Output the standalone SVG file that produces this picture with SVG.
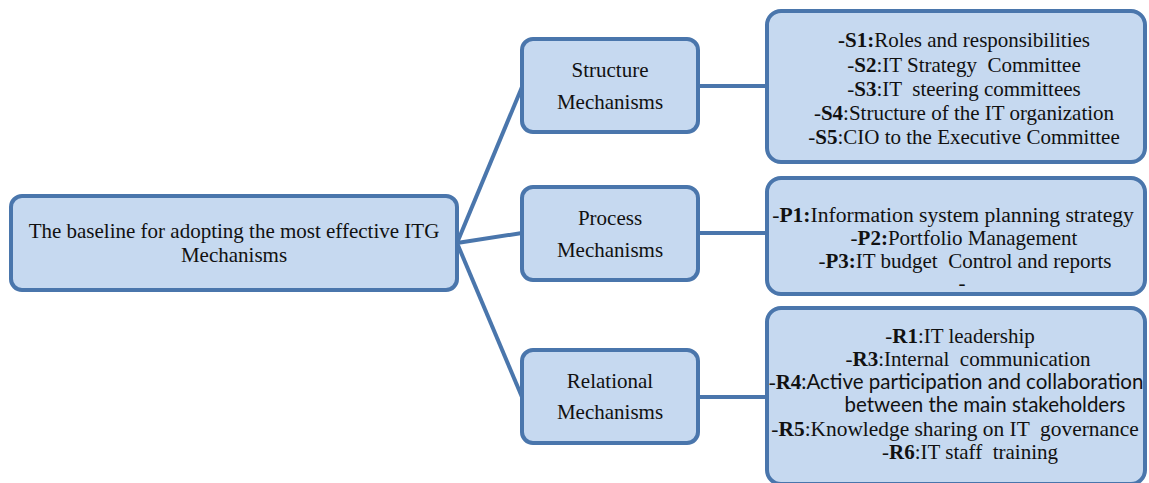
<svg xmlns="http://www.w3.org/2000/svg" width="1149" height="483" viewBox="0 0 1149 483">
<style>
.box{fill:#c6d9f0;stroke:#4a76ac;stroke-width:4}
.conn{stroke:#4a76ac;stroke-width:4;fill:none}
text{font-family:"Liberation Serif","Times New Roman",serif;font-size:21px;fill:#111;text-anchor:middle;white-space:pre}
.b{font-weight:bold}
.sans{font-family:Lato,"Liberation Sans",sans-serif;font-size:20px}
</style>
<rect width="1149" height="483" fill="#ffffff"/>
<g id="connectors">
<line class="conn" x1="457" y1="243" x2="522" y2="87"/>
<line class="conn" x1="457" y1="243" x2="522" y2="233"/>
<line class="conn" x1="457" y1="243" x2="522" y2="397"/>
<line class="conn" x1="698" y1="86" x2="767" y2="86"/>
<line class="conn" x1="698" y1="233" x2="767" y2="233"/>
<line class="conn" x1="698" y1="397" x2="767" y2="397"/>
</g>
<g id="root">
<rect class="box" x="11" y="196" width="446" height="94" rx="11"/>
<text x="234" y="238">The baseline for adopting the most effective ITG</text>
<text x="234" y="262">Mechanisms</text>
</g>
<g id="structure">
<rect class="box" x="522" y="39" width="176" height="93" rx="11"/>
<text x="610" y="77">Structure</text>
<text x="610" y="109">Mechanisms</text>
</g>
<g id="process">
<rect class="box" x="522" y="187" width="176" height="93" rx="11"/>
<text x="610" y="225">Process</text>
<text x="610" y="257">Mechanisms</text>
</g>
<g id="relational">
<rect class="box" x="522" y="350" width="176" height="93" rx="11"/>
<text x="610" y="388">Relational</text>
<text x="610" y="419">Mechanisms</text>
</g>
<g id="structure-items">
<rect class="box" x="767" y="11" width="378" height="151" rx="14"/>
<text x="964" y="47" xml:space="preserve"><tspan class="b">-S1:</tspan>Roles and responsibilities</text>
<text x="964" y="72" xml:space="preserve">-<tspan class="b">S2</tspan>:IT Strategy  Committee</text>
<text x="964" y="96" xml:space="preserve">-<tspan class="b">S3</tspan>:IT  steering committees</text>
<text x="964" y="120" xml:space="preserve">-<tspan class="b">S4</tspan>:Structure of the IT organization</text>
<text x="964" y="144" xml:space="preserve">-<tspan class="b">S5</tspan>:CIO to the Executive Committee</text>
</g>
<g id="process-items">
<rect class="box" x="767" y="178" width="378" height="116" rx="14"/>
<text x="953" y="222" style="font-size:21.6px" xml:space="preserve">-<tspan class="b">P1:</tspan>Information system planning strategy</text>
<text x="964" y="245" xml:space="preserve">-<tspan class="b">P2:</tspan>Portfolio Management</text>
<text x="965" y="268" xml:space="preserve">-<tspan class="b">P3:</tspan>IT budget  Control and reports</text>
<text x="962" y="290">-</text>
</g>
<g id="relational-items">
<rect class="box" x="767" y="308" width="378" height="176" rx="14"/>
<text x="960" y="343" xml:space="preserve">-<tspan class="b">R1</tspan>:IT leadership</text>
<text x="968" y="366" xml:space="preserve">-<tspan class="b">R3</tspan>:Internal  communication</text>
<text x="956" y="389" xml:space="preserve">-<tspan class="b">R4</tspan><tspan class="sans" style="font-size:20.5px">:Active participation and collaboration</tspan></text>
<text x="985" y="412" class="sans" style="font-size:20.5px">between the main stakeholders</text>
<text x="955" y="436" style="font-size:21.4px" xml:space="preserve">-<tspan class="b">R5</tspan>:Knowledge sharing on IT  governance</text>
<text x="970" y="459" xml:space="preserve">-<tspan class="b">R6</tspan>:IT staff  training</text>
</g>
</svg>
